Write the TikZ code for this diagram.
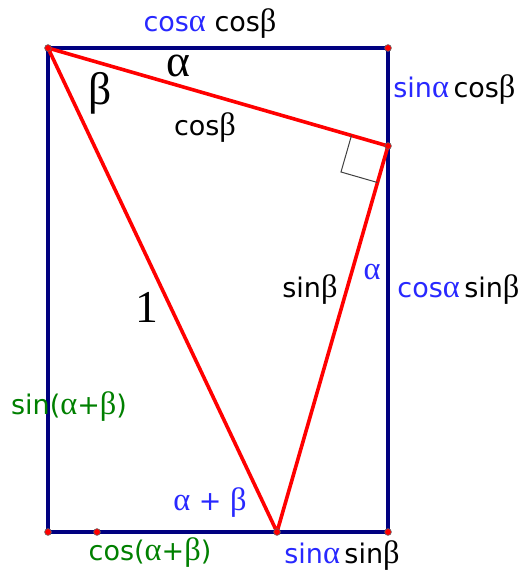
\documentclass[tikz,border=0pt]{standalone}
\usepackage{fontspec}
\setmainfont{DejaVu Sans}
\newfontfamily\grk[Scale=1.2]{Liberation Serif}
\usetikzlibrary{calc}
\definecolor{framecol}{RGB}{0,0,128}
\definecolor{tricol}{RGB}{255,0,0}
\definecolor{lblblue}{RGB}{40,40,255}
\definecolor{lblgreen}{RGB}{0,128,0}
\newcommand{\ga}{{\grk α}}
\newcommand{\gb}{{\grk β}}

\begin{document}
\begin{tikzpicture}[x=0.5pt, y=-0.5pt,
    frame/.style={draw=framecol, line width=2.2pt},
    tri/.style={draw=tricol, line width=1.8pt, line join=round},
    dot/.style={circle, fill=tricol, draw=black!60, line width=0.3pt, inner sep=0pt, minimum size=3.4pt},
    lbl/.style={inner sep=0pt, font=\fontsize{13.5}{16}\selectfont},
    biglbl/.style={inner sep=0pt, font=\fontsize{19}{22}\selectfont\grk}
]
\useasboundingbox (0,0) rectangle (525,573);

% corners of the rectangle and the triangle
\coordinate (A) at (48,48);
\coordinate (B) at (388,48);
\coordinate (P) at (388,146);
\coordinate (C) at (388,532);
\coordinate (Q) at (277,532);
\coordinate (D) at (48,532);
\coordinate (E) at (97,532);

\draw[frame] (A) -- (B) -- (C) -- (D) -- cycle;
\draw[tri] (A) -- (P) -- (Q) -- cycle;

% right angle at P
\coordinate (ra1) at ($(P)!19pt!(A)$);
\coordinate (ra2) at ($(P)!19pt!(Q)$);
\draw[black!75, line width=0.5pt] (ra1) -- ($(ra1)+(ra2)-(P)$) -- (ra2);

\foreach \p in {A,B,P,C,Q,D,E}
  \node[dot] at (\p) {};

% labels
\node[lbl] (cacb) at (210,24) {\textcolor{lblblue}{cos\ga} cos\gb};
\node[lbl, anchor=west] (sacb) at (393,90) {\textcolor{lblblue}{sin\ga}\,cos\gb};
\node[lbl, anchor=west] (casb) at (397,290) {\textcolor{lblblue}{cos\ga}\,sin\gb};
\node[lbl] (sb) at (310,290) {sin\gb};
\node[lbl, text=lblblue] (al2) at (372,272) {\ga};
\node[lbl] (cb) at (205,128) {cos\gb};
\node[biglbl] (al1) at (178,66) {α};
\node[biglbl] (be1) at (100,93) {β};
\node[biglbl] (one) at (147,307) {1};
\node[lbl, text=lblgreen] (sab) at (69,407) {sin(\ga+\gb)};
\node[lbl, text=lblblue] (apb) at (210,503) {\ga{} + \gb};
\node[lbl, text=lblgreen] (cab) at (150,553) {cos(\ga+\gb)};
\node[lbl] (sasb) at (342,556) {\textcolor{lblblue}{sin\ga}\,sin\gb};
\end{tikzpicture}
\end{document}
